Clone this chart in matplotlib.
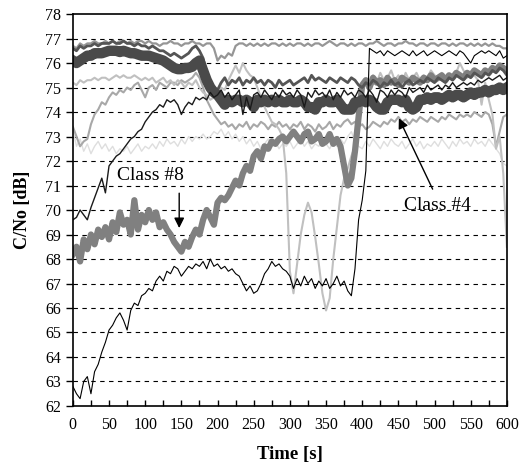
import numpy as np
import matplotlib
matplotlib.use("Agg")
import matplotlib.pyplot as plt
from matplotlib.ticker import MultipleLocator

plt.rcParams['font.family'] = ['Liberation Serif', 'DejaVu Serif']

# time axis: one sample every 5 s
t = np.arange(0, 601, 5)

# very light gray
s_g = [73.3, 72.6, 72.9, 72.4, 72.7, 72.3, 72.6, 72.8, 72.5, 72.7,
       72.4, 72.6, 72.3, 72.5, 72.4, 72.6, 72.3, 72.5, 72.7, 72.4,
       72.6, 72.5, 72.7, 72.5, 72.8, 72.6, 72.9, 72.7, 72.8, 72.6,
       72.9, 72.7, 73.0, 72.8, 73.0, 72.9, 73.1, 72.9, 73.0, 73.2,
       73.1, 73.3, 73.0, 73.2, 72.9, 73.1, 72.8, 73.0, 72.7, 72.9,
       72.6, 72.8, 72.5, 72.7, 72.9, 72.6, 72.8, 72.5, 72.7, 72.6,
       72.8, 72.5, 72.7, 72.9, 72.6, 72.8, 72.5, 72.7, 72.6, 72.9,
       72.7, 72.5, 72.8, 72.6, 72.9, 72.7, 73.0, 73.2, 72.8, 72.6,
       72.5, 72.8, 72.6, 72.9, 72.7, 72.5, 72.8, 72.6, 72.9, 72.7,
       72.6, 72.8, 72.5, 72.7, 72.9, 72.6, 72.8, 72.5, 72.7, 72.6,
       72.8, 72.6, 72.9, 72.7, 72.5, 72.8, 72.6, 72.9, 72.7, 72.8,
       72.6, 72.9, 72.7, 72.8, 72.6, 72.9, 72.7, 72.5, 72.3, 71.9, 71.8]

# medium-light gray, rises then settles near 73.5
s_f = [73.4, 73.0, 72.6, 72.8, 72.9, 73.5, 73.9, 74.1, 74.4, 74.3,
       74.6, 74.8, 74.7, 74.9, 74.8, 75.0, 74.9, 75.1, 75.2, 74.9,
       74.6, 75.0, 75.1, 74.9, 75.2, 75.1, 75.0, 75.2, 75.2, 75.1,
       75.3, 75.2, 75.3, 75.4, 75.6, 75.4, 75.0, 74.5, 74.2, 73.9,
       73.7, 73.5, 73.6, 73.4, 73.5, 73.3, 73.5, 73.4, 73.6, 73.3,
       73.5, 73.4, 73.6, 73.5, 73.3, 73.5, 73.4, 73.6, 73.4, 73.5,
       73.3, 73.5, 73.4, 73.6, 73.3, 73.5, 73.4, 73.2, 73.5, 73.3,
       73.4, 73.6, 73.3, 73.5, 73.4, 73.6, 73.7, 73.5, 73.6, 73.4,
       73.5, 73.3, 73.4, 73.6, 73.5, 73.4, 73.6, 73.5, 73.7, 73.6,
       73.8, 73.6, 73.7, 73.5, 73.7, 73.6, 73.8, 73.7, 73.6, 73.8,
       73.7, 73.6, 73.8, 73.7, 73.9, 73.8, 73.7, 73.9, 73.8, 73.9,
       73.8, 74.0, 73.9, 73.8, 74.0, 73.9, 73.5, 72.6, 73.2, 73.8, 73.9]

# light gray with the deep double dip
s_d = [75.2, 75.1, 75.3, 75.2, 75.3, 75.3, 75.4, 75.3, 75.4, 75.4,
       75.3, 75.4, 75.5, 75.4, 75.5, 75.4, 75.4, 75.5, 75.4, 75.3,
       75.4, 75.3, 75.4, 75.2, 75.3, 75.4, 75.2, 75.3, 75.1, 75.3,
       75.2, 75.0, 75.2, 75.1, 75.3, 75.0, 74.8, 74.7, 74.5, 74.6,
       74.8, 75.0, 74.9, 75.3, 75.6, 75.9, 75.6, 76.0, 75.7, 75.5,
       75.4, 75.0, 74.6, 74.2, 73.9, 73.6, 73.5, 73.3, 73.0, 71.5,
       67.5, 66.6, 67.8, 69.0, 69.8, 70.3, 69.9, 68.9, 67.8, 66.6,
       65.9, 66.4, 68.0, 69.3, 70.6, 71.3, 71.7, 72.2, 72.6, 73.4,
       74.9, 75.3, 75.1, 75.5, 75.2, 75.6, 75.3, 75.4, 75.7, 75.3,
       75.5, 75.2, 75.6, 75.3, 75.4, 75.6, 75.3, 75.5, 75.4, 75.7,
       75.5, 75.4, 75.6, 75.3, 75.5, 75.4, 75.6, 76.0, 75.7, 75.4,
       75.6, 75.5, 75.3, 74.3, 75.2, 74.5, 73.9, 72.5, 73.0, 71.5, 68.5]

# Class #8 (thick medium gray)
s_c8 = [68.2, 68.5, 67.9, 68.8, 68.4, 69.0, 68.6, 69.2, 68.9, 69.3,
        68.8, 69.5, 69.1, 69.9, 69.4, 69.6, 69.0, 70.4, 69.2, 69.8,
        69.5, 70.0, 69.6, 69.9, 69.3, 69.5, 69.2, 69.0, 68.7, 68.5,
        68.3, 68.7, 68.5, 68.9, 69.2, 69.0, 69.6, 70.0, 69.7, 69.4,
        70.3, 70.5, 70.4, 70.6, 70.9, 71.2, 71.0, 71.5, 71.8, 71.6,
        72.2, 72.4, 72.1, 72.6, 72.5, 72.8, 72.7, 72.9, 73.0, 72.8,
        73.0, 73.2, 73.0, 72.8, 73.1, 73.2, 72.8, 72.9, 73.1, 72.7,
        72.8, 73.1, 72.7, 72.9, 72.6, 71.8, 71.0, 71.3, 72.4, 73.8,
        75.1, 75.3, 75.0, 75.4, 75.2, 75.3, 75.1, 75.4, 75.2, 75.3,
        75.1, 75.4, 75.3, 75.2, 75.4, 75.3, 75.2, 75.4, 75.3, 75.5,
        75.3, 75.4, 75.5, 75.3, 75.5, 75.4, 75.6, 75.5, 75.4, 75.6,
        75.5, 75.7, 75.6, 75.5, 75.7, 75.6, 75.8, 75.7, 75.9, 75.8, 75.7]

# top medium gray
s_a = [76.7, 76.6, 76.8, 76.7, 76.8, 76.8, 76.9, 76.8, 76.8, 76.9,
       76.8, 76.9, 76.8, 76.9, 76.9, 76.8, 76.9, 76.8, 76.9, 76.9,
       76.8, 76.9, 76.8, 76.8, 76.7, 76.8, 76.8, 76.9, 76.8, 76.8,
       76.7, 76.8, 76.8, 76.9, 76.8, 76.8, 76.7, 76.8, 76.8, 76.6,
       76.1, 76.3, 76.2, 76.4, 76.3, 76.7, 76.8, 76.8, 76.7, 76.8,
       76.7, 76.8, 76.7, 76.8, 76.7, 76.8, 76.8, 76.7, 76.8, 76.7,
       76.8, 76.7, 76.8, 76.8, 76.7, 76.8, 76.7, 76.8, 76.8, 76.7,
       76.8, 76.9, 76.8, 76.7, 76.8, 76.8, 76.7, 76.8, 76.7, 76.8,
       76.8, 76.7, 76.8, 76.8, 76.9, 76.8, 76.7, 76.8, 76.8, 76.7,
       76.8, 76.8, 76.9, 76.8, 76.8, 76.7, 76.8, 76.8, 76.7, 76.8,
       76.8, 76.7, 76.8, 76.8, 76.7, 76.8, 76.7, 76.8, 76.8, 76.7,
       76.8, 76.7, 76.8, 76.7, 76.8, 76.7, 76.8, 76.7, 76.7, 76.6, 76.6]

# dark gray
s_b = [76.6, 76.5, 76.7, 76.6, 76.7, 76.7, 76.8, 76.7, 76.8, 76.8,
       76.8, 76.9, 76.8, 76.8, 76.9, 76.8, 76.8, 76.7, 76.8, 76.7,
       76.7, 76.6, 76.7, 76.6, 76.5, 76.5, 76.4, 76.3, 76.4, 76.3,
       76.2, 76.3, 76.4, 76.6, 76.7, 76.5, 76.2, 75.6, 75.1, 75.0,
       74.9, 75.2, 75.4, 75.1, 75.3, 75.2, 75.4, 75.1, 75.3, 75.2,
       75.4, 75.2, 75.3, 75.1, 75.3, 75.2, 75.0, 75.3, 75.1, 75.2,
       75.3, 75.1, 75.2, 75.3, 75.4, 75.2, 75.5, 75.3, 75.4, 75.3,
       75.2, 75.4, 75.3, 75.2, 75.4, 75.3, 75.2, 75.4, 75.3, 75.1,
       75.0, 75.2, 75.1, 75.3, 75.2, 75.0, 75.2, 75.1, 75.3, 75.1,
       75.2, 75.0, 75.2, 75.3, 75.1, 75.2, 75.3, 75.2, 75.4, 75.3,
       75.2, 75.4, 75.3, 75.2, 75.4, 75.3, 75.5, 75.4, 75.3, 75.5,
       75.4, 75.6, 75.5, 75.4, 75.6, 75.5, 75.7, 75.6, 75.8, 75.7, 75.5]

# Class #4 (thick dark gray)
s_c4 = [76.1, 76.0, 76.1, 76.2, 76.3, 76.3, 76.4, 76.4, 76.4, 76.45,
        76.5, 76.5, 76.5, 76.45, 76.5, 76.45, 76.4, 76.4, 76.35, 76.3,
        76.3, 76.3, 76.25, 76.2, 76.15, 76.1, 76.0, 75.9, 75.8, 75.75,
        75.75, 75.8, 75.8, 75.85, 76.0, 76.1, 75.7, 75.3, 75.0, 74.8,
        74.7, 74.5, 74.3, 74.5, 74.4, 74.5, 74.5, 74.4, 74.5, 74.4,
        74.2, 74.5, 74.4, 74.5, 74.4, 74.5, 74.4, 74.5, 74.4, 74.4,
        74.5, 74.4, 74.4, 74.5, 74.4, 74.2, 74.2, 74.1, 74.4, 74.4,
        74.5, 74.4, 74.4, 74.5, 74.3, 74.1, 74.1, 74.1, 74.4, 74.4,
        74.5, 74.4, 74.5, 74.4, 74.2, 74.1, 74.1, 74.4, 74.5, 74.5,
        74.5, 74.4, 74.5, 74.2, 74.1, 74.2, 74.5, 74.5, 74.6, 74.5,
        74.6, 74.6, 74.5, 74.6, 74.7, 74.6, 74.7, 74.7, 74.6, 74.7,
        74.8, 74.7, 74.8, 74.8, 74.9, 74.8, 74.9, 74.9, 75.0, 74.9, 75.0]

# black, rising from 69.6
s_e = [69.6, 69.7, 70.0, 69.8, 69.6, 70.1, 70.5, 70.9, 71.3, 70.7,
       71.8, 72.0, 72.2, 72.3, 72.5, 72.7, 72.9, 73.0, 73.2, 73.3,
       73.6, 73.8, 74.0, 74.1, 74.3, 74.2, 74.5, 74.4, 74.5, 74.3,
       73.9, 74.2, 74.4, 74.3, 74.6, 74.5, 74.6, 74.5, 74.8, 74.6,
       74.7, 74.9, 74.6, 74.8, 74.5, 74.7, 74.9, 73.9, 74.6, 74.1,
       74.7, 74.8, 74.6, 74.9, 74.7, 74.5, 74.8, 74.6, 74.9, 74.7,
       74.8, 74.6, 74.9, 74.7, 74.2, 74.8, 74.6, 74.9, 74.7, 74.8,
       74.6, 74.9, 74.5, 74.8, 74.6, 74.9, 74.7, 74.8, 74.6, 74.9,
       74.8, 74.6, 74.9, 74.7, 74.4, 74.9, 74.8, 74.6, 74.9, 74.7,
       74.9, 74.8, 74.6, 75.0, 74.8, 74.9, 75.0, 74.8, 75.1, 74.9,
       75.0, 75.1, 74.9, 75.1, 75.0, 75.2, 75.0, 75.1, 75.2, 75.1,
       75.2, 75.1, 75.3, 75.2, 75.3, 75.4, 75.3, 75.4, 75.5, 75.3, 75.4]

# thin black, low start, jumps up near 405 s
s_l = [62.8, 62.5, 62.3, 63.0, 63.2, 62.5, 63.4, 63.7, 64.2, 64.6,
       65.1, 65.3, 65.6, 65.8, 65.5, 65.1, 65.9, 66.2, 66.1, 66.5,
       66.6, 66.8, 66.7, 67.1, 67.3, 67.1, 67.5, 67.4, 67.7, 67.6,
       67.3, 67.5, 67.7, 67.6, 67.8, 67.7, 67.9, 67.6, 68.0, 67.7,
       67.8, 67.6, 67.7, 67.5, 67.6, 67.4, 67.3, 67.0, 66.7, 66.9,
       66.6, 66.7, 67.0, 67.4, 67.6, 67.9, 67.7, 67.8, 67.6, 67.5,
       67.3, 66.8, 67.2, 66.9, 67.3, 67.0, 67.2, 66.8, 67.1, 66.9,
       67.2, 66.8, 67.0, 67.3, 66.9, 67.1, 66.7, 66.5, 67.6, 69.6,
       70.4, 71.6, 76.6, 76.5, 76.4, 76.5, 76.3, 76.5, 76.4, 76.3,
       76.4, 76.5, 76.4, 76.3, 76.5, 76.3, 76.4, 76.5, 76.3, 76.4,
       76.5, 76.4, 76.3, 76.4, 76.5, 76.4, 76.3, 76.5, 76.4, 76.2,
       76.0, 76.3, 76.4, 76.5, 76.4, 76.5, 76.4, 76.3, 76.5, 76.2, 76.3]

fig = plt.figure(figsize=(5.28, 4.68), dpi=100)
ax = fig.add_axes([0.138, 0.1325, 0.822, 0.8375])

for yv in range(63, 78):
    ax.axhline(yv, color='black', lw=0.8, ls=(0, (4, 4)), zorder=0)

ax.plot(t, s_g, color='#dedede', lw=1.0)
ax.plot(t, s_f, color='#a8a8a8', lw=1.5)
ax.plot(t, s_d, color='#c0c0c0', lw=1.5)
ax.plot(t, s_c8, color='#808080', lw=4.5)
ax.plot(t, s_a, color='#969696', lw=1.6)
ax.plot(t, s_b, color='#555555', lw=2.0)
ax.plot(t, s_c4, color='#4a4a4a', lw=7.5)
ax.plot(t, s_e, color='#1a1a1a', lw=1.0)
ax.plot(t, s_l, color='black', lw=0.8)

ax.set_xlim(0, 600)
ax.set_ylim(62, 78)
ax.xaxis.set_major_locator(MultipleLocator(50))
ax.xaxis.set_minor_locator(MultipleLocator(25))
ax.yaxis.set_major_locator(MultipleLocator(1))
ax.tick_params(axis='x', which='both', direction='in', length=4, width=1, labelsize=11.5, pad=8)
ax.tick_params(axis='y', direction='out', length=5, width=1, labelsize=11.5)
for sp in ax.spines.values():
    sp.set_linewidth(1.2)

ax.set_xlabel('Time [s]', fontsize=13.5, fontweight='bold', labelpad=9)
ax.set_ylabel('C/No [dB]', fontsize=13, fontweight='bold', labelpad=10)

ax.annotate('Class #8', xy=(147, 69.2), xytext=(107, 71.4), fontsize=14,
            ha='center', va='center')
ax.annotate('', xy=(147, 69.15), xytext=(147, 70.8),
            arrowprops=dict(arrowstyle='-|>,head_length=0.6,head_width=0.3',
                            color='black', lw=1.0))
ax.annotate('Class #4', xy=(504, 70.2), xytext=(504, 70.2), fontsize=14,
            ha='center', va='center')
ax.annotate('', xy=(449, 73.85), xytext=(499, 70.75),
            arrowprops=dict(arrowstyle='-|>,head_length=0.6,head_width=0.3',
                            color='black', lw=1.0))

fig.savefig('out.png', dpi=100)
